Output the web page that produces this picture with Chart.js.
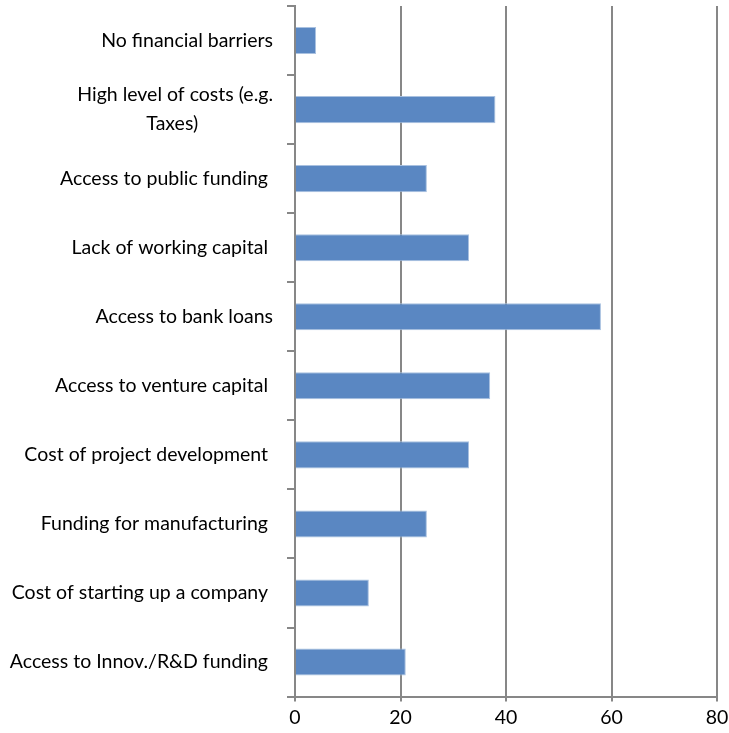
<!DOCTYPE html>
<html>
<head>
<meta charset="utf-8">
<script src="https://cdn.jsdelivr.net/npm/chart.js@4/dist/chart.umd.min.js"></script>
<style>
  html, body { margin: 0; padding: 0; background: #fff; }
  #wrap { width: 729px; height: 733px; }
</style>
</head>
<body>
<div id="wrap"><canvas id="grafico"></canvas></div>
<script>
// barreiras financeiras (de cima para baixo)
var categorias = [
	"No financial barriers",
	["High level of costs (e.g.", "Taxes)               "],
	"Access to public funding ",
	"Lack of working capital ",
	"Access to bank loans",
	"Access to venture capital ",
	"Cost of project development ",
	"Funding for manufacturing ",
	"Cost of starting up a company ",
	"Access to Innov./R&D funding ",
];
var valores = [4, 38, 25, 33, 58, 37, 33, 25, 14, 21];
var ticksX = [0, 20, 40, 60, 80];

var corEixo = "#878787";
var fonte = { family: "Lato", size: 19.5, lineHeight: 1.5 };

var grafico = new Chart(document.getElementById("grafico"), {
	type: "bar",
	data: {
		labels: categorias,
		datasets: [
			{
				data: valores,
				backgroundColor: "#5a87c2",
				borderColor: "#a9c1e0",
				borderWidth: 1,
				categoryPercentage: 0.8,
				barPercentage: 0.49,
			},
		],
	},
	options: {
		indexAxis: "y",
		responsive: true,
		maintainAspectRatio: false,
		animation: false,
		layout: { padding: { top: 6, right: 12, left: 0, bottom: 0 } },
		plugins: { legend: { display: false }, tooltip: { enabled: false } },
		scales: {
			x: {
				min: 0,
				max: 80,
				afterBuildTicks: function (scale) {
					scale.ticks = ticksX.map(function (v) { return { value: v }; });
				},
				afterFit: function (scale) {
					scale.paddingLeft = 0;
					scale.paddingRight = 0;
				},
				grid: { color: corEixo, lineWidth: 2, tickLength: 5 },
				border: { color: corEixo, width: 2 },
				ticks: { font: { family: "Lato", size: 19.5 }, color: "#000", padding: 4 },
			},
			y: {
				afterFit: function (scale) {
					scale.width = 295;
					scale.paddingTop = 0;
					scale.paddingBottom = 0;
				},
				grid: { drawOnChartArea: false, color: corEixo, lineWidth: 2, tickLength: 8 },
				border: { color: corEixo, width: 2 },
				ticks: { font: fonte, color: "#000", padding: 14, autoSkip: false },
			},
		},
	},
});
</script>
</body>
</html>
